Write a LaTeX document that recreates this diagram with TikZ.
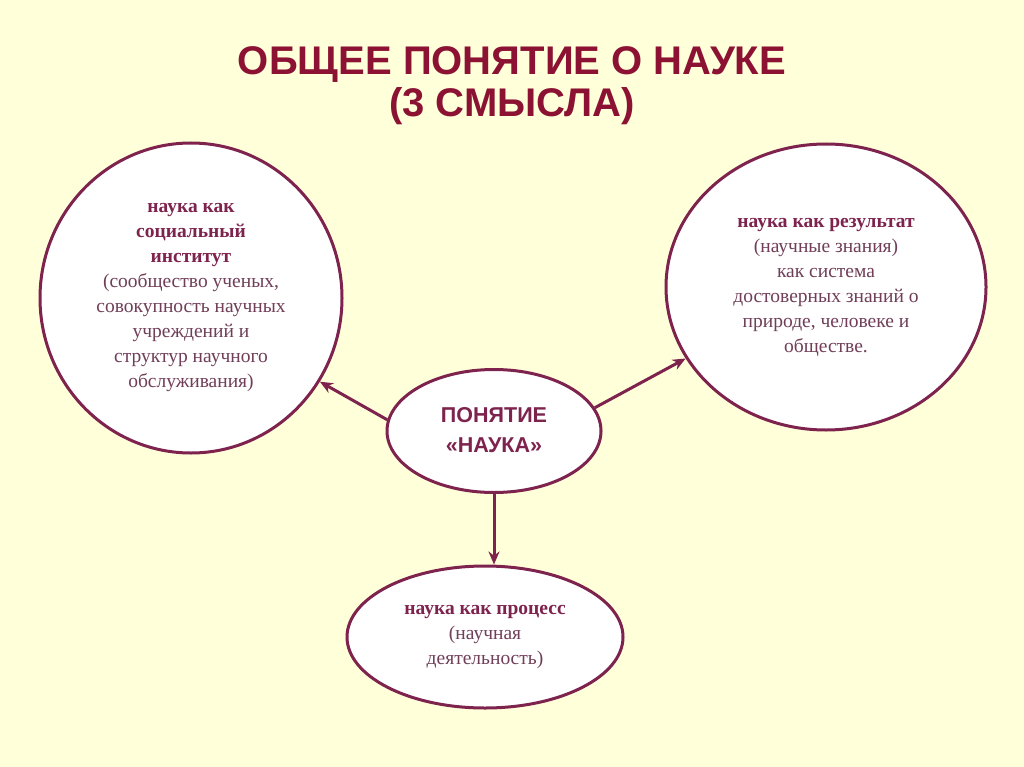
\documentclass[tikz,border=0pt]{standalone}
\usepackage{fontspec}
\setmainfont{Liberation Serif}
\newfontfamily\headfont{Liberation Sans}
\usetikzlibrary{arrows.meta,shapes.geometric}
\definecolor{paper}{RGB}{255,255,217}
\definecolor{wine}{RGB}{125,35,78}
\definecolor{claret}{RGB}{140,18,52}
\definecolor{mauve}{RGB}{112,62,88}
\tikzset{
  >={Stealth[length=13pt,width=11pt]},
  idea/.style={ellipse,draw=wine,line width=3pt,fill=white,inner sep=0pt,
    align=center,text=mauve,font=\fontsize{19.5}{25}\selectfont},
  hub/.style={idea,text=wine,font=\headfont\bfseries\fontsize{21.5}{30}\selectfont},
  link/.style={->,line width=3pt,draw=wine},
  head/.style={font=\headfont\bfseries\fontsize{40}{42}\selectfont,text=claret,align=center},
}
\newcommand{\key}[1]{{\bfseries\color{wine}#1}}

\begin{document}
\begin{tikzpicture}[x=1pt,y=-1pt]
  \fill[paper] (0,0) rectangle (1024,767);
  \useasboundingbox (0,0) rectangle (1024,767);
  % title
  \node[head] (title) at (512,86) {ОБЩЕЕ ПОНЯТИЕ О НАУКЕ\\(3 СМЫСЛА)};
  % three meanings
  \node[idea,minimum width=302pt,minimum height=310pt] (inst) at (191,298)
    {\key{наука как}\\\key{социальный}\\\key{институт}\\(сообщество ученых,\\совокупность научных\\учреждений и\\структур научного\\обслуживания)};
  \node[idea,minimum width=320pt,minimum height=286pt] (res) at (826,287)
    {\key{наука как результат}\\(научные знания)\\как система\\достоверных знаний о\\природе, человеке и\\обществе.};
  \node[idea,minimum width=276pt,minimum height=142pt] (proc) at (485,637)
    {\key{наука как процесс}\\(научная\\деятельность)};
  % centre
  \node[hub,minimum width=214pt,minimum height=123pt] (hubn) at (494,431) {\raisebox{3pt}{ПОНЯТИЕ}\\\raisebox{3pt}{«НАУКА»}};
  \draw[link] (hubn.174) -- (inst.-33);
  \draw[link] (hubn.13) -- (res.207);
  \draw[link] (hubn.south) -- (hubn.south |- proc.north);
\end{tikzpicture}
\end{document}
